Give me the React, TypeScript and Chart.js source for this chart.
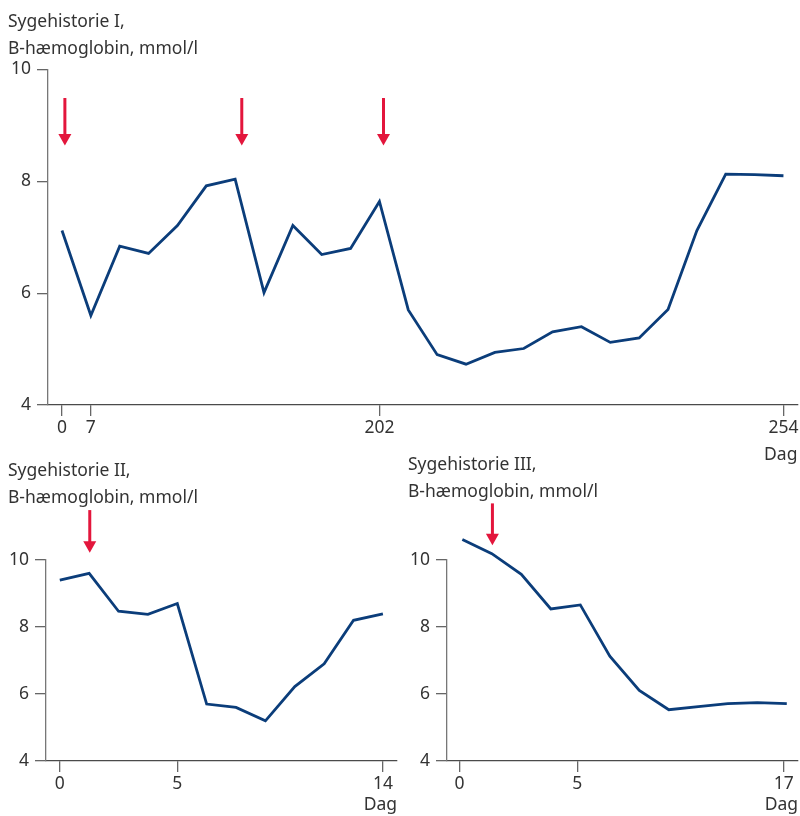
import React, { useEffect, useRef } from "react";
import { Chart, registerables } from "chart.js";

Chart.register(...registerables);

// ---------- data ----------
const hbCaseI = [7.12, 5.6, 6.84, 6.71, 7.21, 7.92, 8.04, 6.01, 7.21, 6.69, 6.8, 7.64, 5.7, 4.9, 4.73, 4.94, 5.01, 5.31, 5.4, 5.12, 5.2, 5.71, 7.12, 8.13, 8.12, 8.1];
const hbCaseII = [9.4, 9.6, 8.47, 8.38, 8.7, 5.7, 5.6, 5.2, 6.22, 6.9, 8.2, 8.39];
const hbCaseIII = [10.61, 10.19, 9.57, 8.54, 8.66, 7.13, 6.11, 5.53, 5.62, 5.71, 5.74, 5.71];

const dayTickPosI = [0, 1, 11, 25];
const dayTickLabelsI = ["0", "7", "202", "254"];
const dayTickPosII = [0, 4, 11];
const dayTickLabelsII = ["0", "5", "14"];
const dayTickPosIII = [-0.1, 3.9, 10.9];
const dayTickLabelsIII = ["0", "5", "17"];

const hbTicks = [4, 6, 8, 10];

// arrows: x position (sample index), arrow top value, arrow tip value
const arrowsI = [
  { x: 0.1, from: 9.49, to: 8.64 },
  { x: 6.23, from: 9.49, to: 8.64 },
  { x: 11.14, from: 9.49, to: 8.64 },
];
const arrowsII = [{ x: 1.02, from: 11.49, to: 10.22 }];
const arrowsIII = [{ x: 1.02, from: 11.69, to: 10.44 }];

const titlesI = ["Sygehistorie I,", "B-hæmoglobin, mmol/l"];
const titlesII = ["Sygehistorie II,", "B-hæmoglobin, mmol/l"];
const titlesIII = ["Sygehistorie III,", "B-hæmoglobin, mmol/l"];
const xAxisTitle = "Dag";

// ---------- styling ----------
const FONT = '"Noto Sans", "Open Sans", sans-serif';
const LINE_COLOR = "#0b3d7a";
const ARROW_COLOR = "#e3163c";
const TEXT_COLOR = "#333333";
const AXIS_COLOR = "#666666";

function makeArrowPlugin(items: { x: number; from: number; to: number }[]) {
  return {
    id: "arrows",
    afterDatasetsDraw(chart: any) {
      const { ctx, scales } = chart;
      const xs = scales.x;
      const ys = scales.y;
      ctx.save();
      ctx.fillStyle = ARROW_COLOR;
      ctx.strokeStyle = ARROW_COLOR;
      const hh = 11.5;
      const hw = 6.5;
      for (const a of items) {
        const px = xs.getPixelForValue(a.x);
        const top = ys.getPixelForValue(a.from);
        const tip = ys.getPixelForValue(a.to);
        ctx.lineWidth = 3;
        ctx.beginPath();
        ctx.moveTo(px, top);
        ctx.lineTo(px, tip - hh + 1);
        ctx.stroke();
        ctx.beginPath();
        ctx.moveTo(px - hw, tip - hh);
        ctx.lineTo(px + hw, tip - hh);
        ctx.lineTo(px, tip);
        ctx.closePath();
        ctx.fill();
      }
      ctx.restore();
    },
  };
}

type PanelProps = {
  left: number;
  top: number;
  width: number;
  height: number;
  values: number[];
  tickPos: number[];
  tickLabels: string[];
  arrows: { x: number; from: number; to: number }[];
  yAxisWidth: number;
  xAxisHeight: number;
  padTop: number;
  padRight: number;
  titlePadBottom: number;
  xMinOffset: number;
  xMaxOffset: number;
};

function Panel(p: PanelProps) {
  const ref = useRef<HTMLCanvasElement | null>(null);
  useEffect(() => {
    if (!ref.current) return;
    const points = p.values.map((v, i) => ({ x: i, y: v }));
    const chart = new Chart(ref.current, {
      type: "line",
      data: {
        datasets: [
          {
            data: points,
            borderColor: LINE_COLOR,
            borderWidth: 2.8,
            pointRadius: 0,
            tension: 0,
            fill: false,
            clip: false as any,
            borderJoinStyle: "miter",
          },
        ],
      },
      options: {
        animation: false,
        responsive: false,
        devicePixelRatio: 1,
        layout: { padding: { top: p.padTop, right: p.padRight, left: 0, bottom: 0 } },
        plugins: { legend: { display: false }, tooltip: { enabled: false }, title: { display: false } },
        scales: {
          x: {
            type: "linear",
            min: p.xMinOffset,
            max: p.values.length - 1 + p.xMaxOffset,
            afterBuildTicks: (scale: any) => {
              scale.ticks = p.tickPos.map((v) => ({ value: v }));
            },
            afterFit: (scale: any) => {
              scale.height = p.xAxisHeight;
            },
            ticks: {
              autoSkip: false,
              maxRotation: 0,
              padding: 1.5,
              color: TEXT_COLOR,
              font: { family: FONT, size: 17.5 },
              callback: (_v: any, i: number) => p.tickLabels[i],
            },
            grid: {
              display: true,
              drawOnChartArea: false,
              drawTicks: true,
              tickLength: 11,
              color: AXIS_COLOR,
              lineWidth: 1.3,
            },
            border: { display: true, color: "#4a4a4a", width: 1.3 },
            title: {
              display: true,
              text: xAxisTitle,
              align: "end",
              color: TEXT_COLOR,
              font: { family: FONT, size: 17.5 },
              padding: { top: 0, bottom: p.titlePadBottom },
            },
          },
          y: {
            type: "linear",
            min: 4,
            max: 10,
            afterBuildTicks: (scale: any) => {
              scale.ticks = hbTicks.map((v) => ({ value: v }));
            },
            afterFit: (scale: any) => {
              scale.width = p.yAxisWidth;
            },
            ticks: {
              padding: 6,
              color: TEXT_COLOR,
              font: { family: FONT, size: 17.5 },
            },
            grid: {
              display: true,
              drawOnChartArea: false,
              drawTicks: true,
              tickLength: 11,
              color: AXIS_COLOR,
              lineWidth: 1.3,
            },
            border: { display: true, color: "#777777", width: 1.3 },
          },
        },
      } as any,
      plugins: [makeArrowPlugin(p.arrows)],
    });
    return () => chart.destroy();
  }, []);
  return (
    <canvas
      ref={ref}
      width={p.width}
      height={p.height}
      style={{ position: "absolute", left: p.left, top: p.top, width: p.width, height: p.height }}
    />
  );
}

function Title({ left, top, lines }: { left: number; top: number; lines: string[] }) {
  return (
    <div
      style={{
        position: "absolute",
        left,
        top,
        fontFamily: FONT,
        fontSize: "17.5px",
        lineHeight: "27px",
        color: TEXT_COLOR,
        whiteSpace: "pre",
      }}
    >
      {lines.map((l, i) => (
        <div key={i}>{l}</div>
      ))}
    </div>
  );
}

export default function App() {
  return (
    <div
      style={{
        position: "fixed",
        left: 0,
        top: 0,
        width: 800,
        height: 816,
        background: "#ffffff",
        overflow: "hidden",
      }}
    >
      <Panel
        left={0}
        top={53}
        width={800}
        height={427}
        values={hbCaseI}
        tickPos={dayTickPosI}
        tickLabels={dayTickLabelsI}
        arrows={arrowsI}
        yAxisWidth={48}
        xAxisHeight={75}
        padTop={14}
        padRight={2}
        titlePadBottom={14.5}
        xMinOffset={-0.485}
        xMaxOffset={0.485}
      />
      <Panel
        left={0}
        top={440}
        width={400}
        height={376}
        values={hbCaseII}
        tickPos={dayTickPosII}
        tickLabels={dayTickLabelsII}
        arrows={arrowsII}
        yAxisWidth={46}
        xAxisHeight={55}
        padTop={120}
        padRight={3}
        titlePadBottom={0}
        xMinOffset={-0.47}
        xMaxOffset={0.48}
      />
      <Panel
        left={400}
        top={440}
        width={400}
        height={376}
        values={hbCaseIII}
        tickPos={dayTickPosIII}
        tickLabels={dayTickLabelsIII}
        arrows={arrowsIII}
        yAxisWidth={47}
        xAxisHeight={55}
        padTop={120}
        padRight={2}
        titlePadBottom={0}
        xMinOffset={-0.52}
        xMaxOffset={0.38}
      />
      <Title left={8} top={7} lines={titlesI} />
      <Title left={8} top={456} lines={titlesII} />
      <Title left={408} top={450} lines={titlesIII} />
    </div>
  );
}
